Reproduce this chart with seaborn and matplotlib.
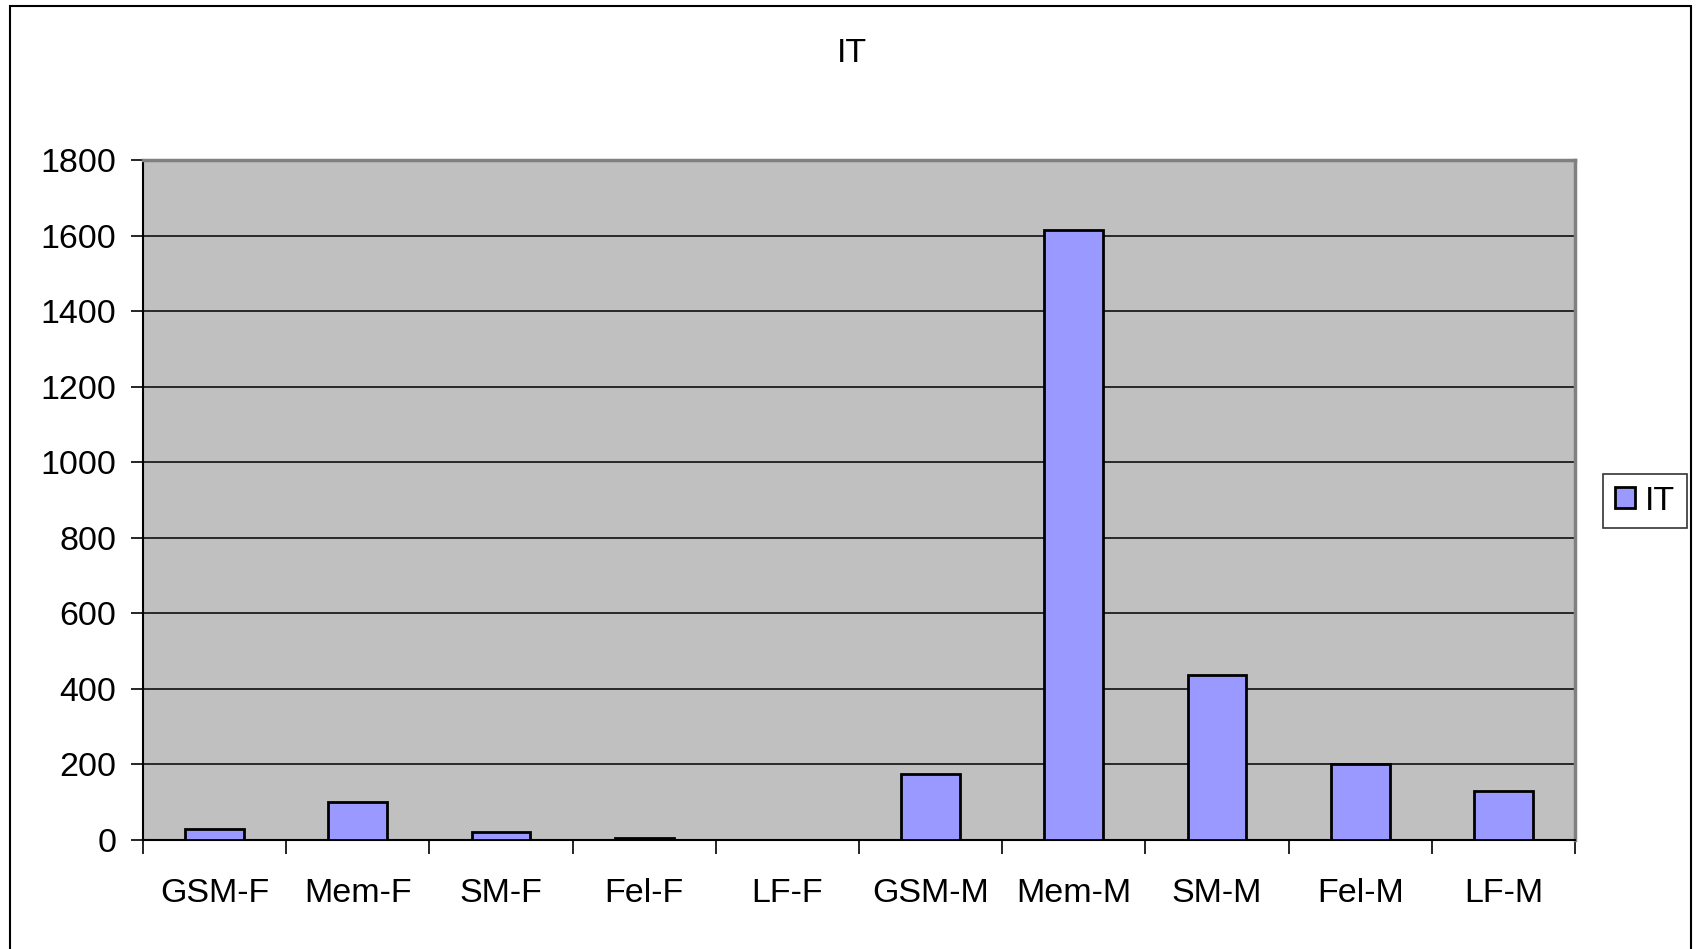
import matplotlib
matplotlib.use("Agg")
import matplotlib.pyplot as plt
import seaborn as sns
import pandas as pd
from matplotlib.patches import Rectangle, Patch
from matplotlib.ticker import FixedLocator, NullFormatter

categories = ["GSM-F", "Mem-F", "SM-F", "Fel-F", "LF-F",
              "GSM-M", "Mem-M", "SM-M", "Fel-M", "LF-M"]
values = [28, 100, 20, 5, 0, 175, 1615, 436, 202, 131]
series_name = "IT"
yticks = [0, 200, 400, 600, 800, 1000, 1200, 1400, 1600, 1800]

sns.set_theme(style="white")
plt.rcParams["font.family"] = ["Liberation Sans", "DejaVu Sans"]
plt.rcParams["text.color"] = "black"
plt.rcParams["xtick.color"] = "black"
plt.rcParams["ytick.color"] = "black"
plt.rcParams["xtick.labelcolor"] = "black"
plt.rcParams["ytick.labelcolor"] = "black"

df = pd.DataFrame({"cat": categories, "val": values})

fig = plt.figure(figsize=(16.96, 9.49), dpi=100)
ax = fig.add_axes([143/1696, 1-840/949, (1575-143)/1696, (840-160)/949])
ax.set_facecolor("#C0C0C0")

sns.barplot(data=df, x="cat", y="val", color="#9999FF", saturation=1,
            width=0.41, edgecolor="black", linewidth=2, ax=ax, zorder=3)

ax.set_ylim(0, 1800)
ax.set_xlim(-0.5, len(categories) - 0.5)
ax.set_yticks(yticks)
ax.set_yticklabels([str(v) for v in yticks], fontsize=24.5, color="black")
ax.yaxis.grid(True, color="black", linewidth=1.1, zorder=1)
ax.set_axisbelow(True)
ax.tick_params(axis="y", direction="out", length=9, width=1.2, color="black",
               pad=10, left=True)

# x ticks at boundaries, labels at centers
ax.xaxis.set_major_locator(FixedLocator([i - 0.5 for i in range(len(categories) + 1)]))
ax.xaxis.set_major_formatter(NullFormatter())
ax.xaxis.set_minor_locator(FixedLocator(list(range(len(categories)))))
ax.set_xticklabels(categories, minor=True, fontsize=24.5, color="black")
ax.tick_params(axis="x", which="major", direction="out", length=10, width=1.2,
               color="black", bottom=True)
ax.tick_params(axis="x", which="minor", length=0, pad=27)

ax.set_xlabel("")
ax.set_ylabel("")
for s in ax.spines.values():
    s.set_color("#808080")
    s.set_linewidth(2.5)
ax.spines["left"].set_color("black")
ax.spines["left"].set_linewidth(1.5)
ax.spines["bottom"].set_color("black")
ax.spines["bottom"].set_linewidth(1.5)

fig.text(852/1696, 1-53/949, series_name, ha="center", va="center",
         fontsize=24.5, color="black")

# outer chart frame
fig.patches.append(Rectangle((10/1696, -0.05), (1691-10)/1696, 1.05 - 6/949,
                             transform=fig.transFigure, fill=False,
                             edgecolor="black", linewidth=1.5))

handle = Patch(facecolor="#9999FF", edgecolor="black", linewidth=2)
leg = fig.legend([handle], [series_name], loc="center",
                 bbox_to_anchor=(1645/1696, 1-501/949),
                 fontsize=24.5, frameon=True, fancybox=False,
                 handlelength=0.6, handleheight=0.6, handletextpad=0.3,
                 borderpad=0.35, borderaxespad=0)
leg.get_frame().set_edgecolor("black")
leg.get_frame().set_linewidth(1.2)
for t in leg.get_texts():
    t.set_color("black")

fig.savefig("out.png", dpi=100)
